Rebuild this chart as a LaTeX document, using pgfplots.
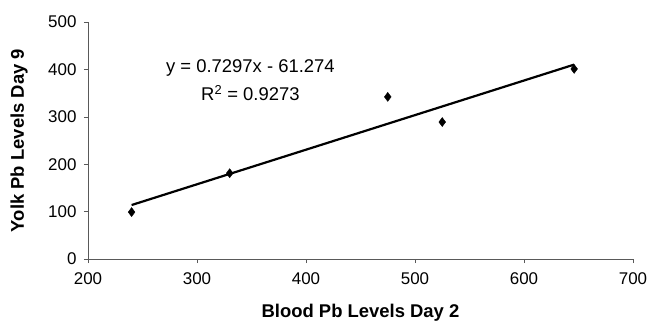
\documentclass[border=0pt]{standalone}
\usepackage{fontspec}
\setmainfont{Liberation Sans}
\usepackage{pgfplots}
\pgfplotsset{compat=1.18}
\begin{document}
\begin{tikzpicture}
\path[use as bounding box] (-88bp,-65bp) rectangle (571bp,259bp);
\begin{axis}[
  at={(0,0)}, anchor=south west,
  scale only axis, width=545bp, height=237bp,
  xmin=200, xmax=700, ymin=0, ymax=500,
  xtick={200,300,...,700}, ytick={0,100,...,500},
  axis x line*=bottom, axis y line*=left,
  axis line style={black!65, line width=0.6bp, -},
  tick style={black!65, line width=0.6bp},
  tick align=outside, major tick length=4bp,
  /pgf/number format/assume math mode=true,
  ticklabel style={font=\fontsize{17}{20}\selectfont},
  xticklabel style={yshift=-6bp},
  yticklabel style={xshift=-4bp},
  xlabel={\textbf{Blood Pb Levels Day 2}},
  ylabel={\textbf{Yolk Pb Levels Day 9}},
  label style={font=\fontsize{18.5}{22}\selectfont},
  xlabel style={at={(axis description cs:0.5,-0.228)}, anchor=center},
  ylabel style={at={(axis description cs:-0.1266,0.5)}, anchor=center},
  clip=false,
]
\addplot[black, line width=2.2bp] coordinates {(240,113.85) (646,410.12)};
\addplot[only marks, mark=diamond*, mark size=4.5bp, black] coordinates {
  (240,99) (330,181) (475,342) (525,289) (646,401)};
\node[font=\fontsize{18.5}{22}\selectfont] at (axis cs:349,403) {y = 0.7297x - 61.274};
\node[font=\fontsize{18.5}{22}\selectfont] at (axis cs:349,350) {R\textsuperscript{2} = 0.9273};
\end{axis}
\end{tikzpicture}
\end{document}
